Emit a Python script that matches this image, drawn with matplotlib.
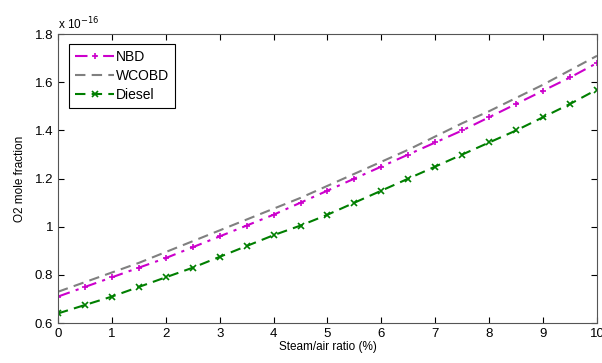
import numpy as np
import matplotlib.pyplot as plt

plt.rcParams['font.family'] = ['Liberation Sans', 'DejaVu Sans']

# steam/air ratio (%) and O2 mole fraction (x 1e-16)
ratio = [0, 0.5, 1, 1.5, 2, 2.5, 3, 3.5, 4, 4.5, 5, 5.5, 6, 6.5, 7, 7.5, 8, 8.5, 9, 9.5, 10]
nbd = [0.71, 0.75, 0.79, 0.83, 0.87, 0.915, 0.96, 1.005, 1.05, 1.10, 1.15,
       1.20, 1.25, 1.30, 1.35, 1.40, 1.455, 1.51, 1.565, 1.62, 1.68]
wcobd = [0.73, 0.77, 0.81, 0.85, 0.895, 0.94, 0.985, 1.03, 1.075, 1.12, 1.17,
         1.22, 1.27, 1.32, 1.375, 1.43, 1.48, 1.535, 1.59, 1.65, 1.71]
diesel = [0.64, 0.675, 0.71, 0.75, 0.79, 0.83, 0.875, 0.92, 0.965, 1.005, 1.05,
          1.10, 1.15, 1.20, 1.25, 1.30, 1.35, 1.40, 1.455, 1.51, 1.57]

fig = plt.figure(figsize=(6.02, 3.63), dpi=100)
ax = fig.add_axes([0.0963, 0.110, 0.8954, 0.796])

ax.plot(ratio, nbd, color='#cc00cc', ls=(0, (6, 3, 1.5, 3)), lw=1.5, marker='+', ms=4, mew=1.2, label='NBD')
ax.plot(ratio, wcobd, color='#808080', ls=(0, (5, 3)), lw=1.5, label='WCOBD')
ax.plot(ratio, diesel, color='#007f00', ls=(0, (5, 3)), lw=1.5, marker='x', ms=4, mew=1.2, label='Diesel')

ax.set_xlim(0, 10)
ax.set_ylim(0.6, 1.8)
ax.set_xticks(range(0, 11))
ax.set_yticks([0.6, 0.8, 1, 1.2, 1.4, 1.6, 1.8])
ax.set_yticklabels(['0.6', '0.8', '1', '1.2', '1.4', '1.6', '1.8'])
ax.tick_params(direction='in', top=True, right=True, labelsize=9.5, length=4)
for s in ax.spines.values():
    s.set_color('#555555')

ax.set_xlabel('Steam/air ratio (%)', fontsize=8.5, labelpad=1)
ax.set_ylabel('O2 mole fraction', fontsize=8.5, labelpad=6)
ax.text(0, 1.005, r'x 10$^{-16}$', transform=ax.transAxes, fontsize=8.5, va='bottom')

leg = ax.legend(loc='upper left', bbox_to_anchor=(0.008, 0.99), fontsize=10,
                fancybox=False, edgecolor='black', framealpha=1,
                handlelength=2.8, borderpad=0.45, labelspacing=0.35, handletextpad=0.1)
leg.get_frame().set_linewidth(0.8)

fig.savefig('out.png', dpi=100)
